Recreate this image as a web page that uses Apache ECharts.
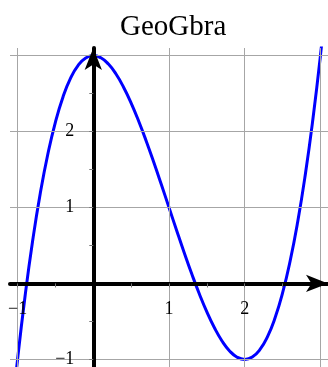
<!DOCTYPE html>
<html>
<head>
<meta charset="utf-8">
<script src="https://cdn.jsdelivr.net/npm/echarts@6/dist/echarts.min.js"></script>
<style>
  html, body { margin: 0; padding: 0; background: #fff; }
  #chart { width: 328px; height: 367px; }
</style>
</head>
<body>
<div id="chart"></div>
<script>
// Sampled points of the plotted cubic
const curveX = [-1.1, -1.0, -0.9, -0.8, -0.7, -0.6, -0.5, -0.4, -0.3, -0.2, -0.1,
  0.0, 0.1, 0.2, 0.3, 0.4, 0.5, 0.6, 0.7, 0.8, 0.9, 1.0, 1.1, 1.2, 1.3, 1.4, 1.5,
  1.6, 1.7, 1.8, 1.9, 2.0, 2.1, 2.2, 2.3, 2.4, 2.5, 2.6, 2.7, 2.8, 2.9, 3.0, 3.1];
const curveY = [-1.961, -1.0, -0.159, 0.568, 1.187, 1.704, 2.125, 2.456, 2.703, 2.872, 2.969,
  3.0, 2.971, 2.888, 2.757, 2.584, 2.375, 2.136, 1.873, 1.592, 1.299, 1.0, 0.701, 0.408, 0.127, -0.136, -0.375,
  -0.584, -0.757, -0.888, -0.971, -1.0, -0.969, -0.872, -0.703, -0.456, -0.125, 0.296, 0.813, 1.432, 2.159, 3.0, 3.961];

// Grid line positions
const gridX = [-1, 0, 1, 2, 3];
const gridY = [-1, 0, 1, 2, 3];

// Tick marks and labelled ticks
const tickX = [-1, -0.5, 0.5, 1, 1.5, 2, 2.5, 3];
const tickY = [-1, -0.5, 0.5, 1, 1.5, 2, 2.5, 3];
const labelX = [-1, 1, 2];
const labelY = [-1, 1, 2];

const fmt = v => (v < 0 ? '\u2212' + Math.abs(v) : String(v));
const serif = "'Liberation Serif', 'DejaVu Serif', serif";

const chart = echarts.init(document.getElementById('chart'), null, { renderer: 'canvas' });

const axisCommon = {
  type: 'value',
  z: 10,
  min: -1.1,
  max: 3.1,
  splitLine: { show: false },
  axisLine: {
    show: true,
    onZero: false,
    symbol: ['none', 'arrow'],
    symbolSize: [13, 22],
    symbolOffset: [0, 0],
    lineStyle: { color: '#000', width: 4 }
  },
  axisTick: {
    show: true,
    length: 4,
    lineStyle: { color: '#777', width: 1 }
  },
  axisLabel: {
    show: true,
    color: '#000',
    fontFamily: serif,
    fontSize: 18,
    formatter: fmt
  }
};

chart.setOption({
  animation: false,
  title: {
    text: 'GeoGbra',
    left: 115,
    top: 8,
    textStyle: { fontFamily: serif, fontSize: 29, fontWeight: 'normal', color: '#000' }
  },
  grid: { left: 10, right: 0, top: 48, bottom: 0, outerBoundsMode: 'none', containLabel: false },
  xAxis: Object.assign({}, axisCommon, {
    position: 'bottom',
    axisTick: Object.assign({}, axisCommon.axisTick, { customValues: tickX }),
    axisLabel: Object.assign({}, axisCommon.axisLabel, { customValues: labelX, margin: 17 })
  }),
  yAxis: Object.assign({}, axisCommon, {
    position: 'left',
    axisTick: Object.assign({}, axisCommon.axisTick, { customValues: tickY }),
    axisLabel: Object.assign({}, axisCommon.axisLabel, { customValues: labelY, margin: 19 })
  }),
  series: [
    {
      type: 'line',
      z: 1,
      data: [],
      silent: true,
      markLine: {
        silent: true,
        symbol: ['none', 'none'],
        label: { show: false },
        lineStyle: { color: '#a6a6a6', width: 1, type: 'solid' },
        emphasis: { disabled: true },
        data: gridX.map(v => ({ xAxis: v })).concat(gridY.map(v => ({ yAxis: v })))
      }
    },
    {
      type: 'line',
      z: 2,
      data: curveX.map((x, i) => [x, curveY[i]]),
      smooth: true,
      showSymbol: false,
      clip: true,
      lineStyle: { color: '#0000ff', width: 3 }
    }
  ]
});

// Move both axes (with their ticks and labels) onto the origin
const origin = chart.convertToPixel({ gridIndex: 0 }, [0, 0]);
const rect = chart.getModel().getComponent('grid', 0).coordinateSystem.getRect();
chart.setOption({
  xAxis: { offset: -(rect.y + rect.height - origin[1]) },
  yAxis: { offset: -(origin[0] - rect.x) }
});
</script>
</body>
</html>
